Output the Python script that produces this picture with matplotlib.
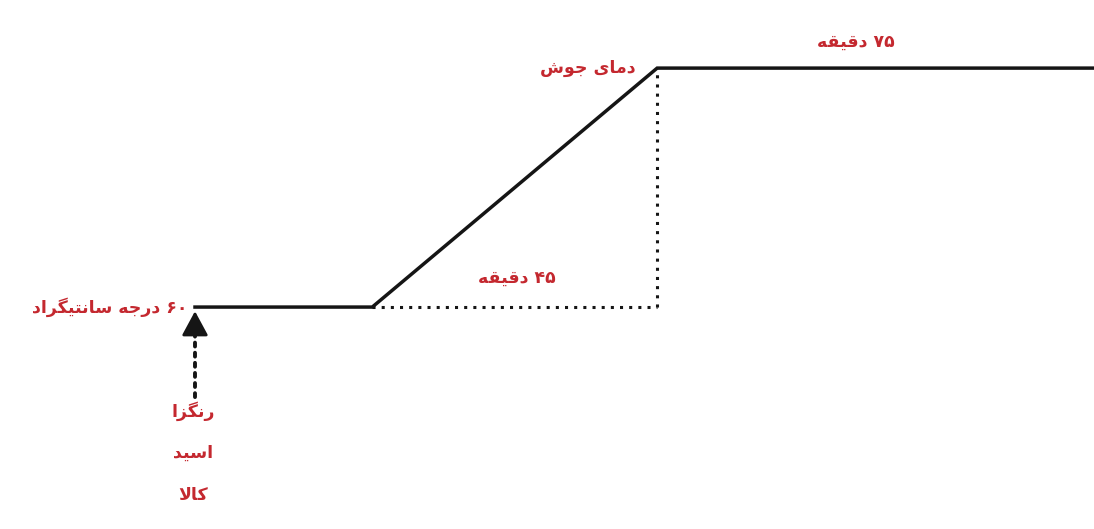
import matplotlib
matplotlib.use("Agg")
import matplotlib.pyplot as plt

plt.rcParams['font.family'] = ['DejaVu Sans', 'Noto Sans']

# زمان (دقیقه) و دما (درجه سانتیگراد) - نمودار شماتیک
time = [0, 28, 73, 142]
temp = [60, 60, 100, 100]

ramp_label = "۴۵ دقیقه"
hold_label = "۷۵ دقیقه"
start_label = "۶۰ درجه سانتیگراد"
boil_label = "دمای جوش"
input_labels = ["رنگزا", "اسید", "کالا"]

# شکل‌دهی ساده حروف فارسی (matplotlib خودش این کار را نمی‌کند)
FORMS = {
    'ا': ('\uFE8D', '\uFE8E', None, None),
    'د': ('\uFEA9', '\uFEAA', None, None),
    'ر': ('\uFEAD', '\uFEAE', None, None),
    'ز': ('\uFEAF', '\uFEB0', None, None),
    'و': ('\uFEED', '\uFEEE', None, None),
    'ب': ('\uFE8F', '\uFE90', '\uFE91', '\uFE92'),
    'ت': ('\uFE95', '\uFE96', '\uFE97', '\uFE98'),
    'ج': ('\uFE9D', '\uFE9E', '\uFE9F', '\uFEA0'),
    'س': ('\uFEB1', '\uFEB2', '\uFEB3', '\uFEB4'),
    'ش': ('\uFEB5', '\uFEB6', '\uFEB7', '\uFEB8'),
    'ق': ('\uFED5', '\uFED6', '\uFED7', '\uFED8'),
    'ک': ('\uFB8E', '\uFB8F', '\uFB90', '\uFB91'),
    'گ': ('\uFB92', '\uFB93', '\uFB94', '\uFB95'),
    'ل': ('\uFEDD', '\uFEDE', '\uFEDF', '\uFEE0'),
    'م': ('\uFEE1', '\uFEE2', '\uFEE3', '\uFEE4'),
    'ن': ('\uFEE5', '\uFEE6', '\uFEE7', '\uFEE8'),
    'ه': ('\uFEE9', '\uFEEA', '\uFEEB', '\uFEEC'),
    'ی': ('\uFBFC', '\uFBFD', '\uFBFE', '\uFBFF'),
}


def shape_word(word):
    out = []
    i = 0
    prev_joins = False
    while i < len(word):
        c = word[i]
        if c not in FORMS:
            out.append(c)
            prev_joins = False
            i += 1
            continue
        # لا
        if c == 'ل' and i + 1 < len(word) and word[i + 1] == 'ا':
            out.append('\uFEFC' if prev_joins else '\uFEFB')
            prev_joins = False
            i += 2
            continue
        f = FORMS[c]
        next_joins = f[2] is not None and i + 1 < len(word) and word[i + 1] in FORMS
        if prev_joins and next_joins:
            out.append(f[3])
        elif prev_joins:
            out.append(f[1])
        elif next_joins:
            out.append(f[2])
        else:
            out.append(f[0])
        prev_joins = next_joins
        i += 1
    return out


def fa(text):
    words = []
    for w in text.split(' '):
        if all('\u06F0' <= c <= '\u06F9' for c in w):
            words.append(w)
        else:
            words.append(''.join(reversed(shape_word(w))))
    return ' '.join(reversed(words))


red = '#c4282f'
ink = '#151515'
fig = plt.figure(figsize=(10.94, 5.29), dpi=100)
ax = fig.add_axes([0, 0, 1, 1])
ax.set_xlim(-30.8, 142)
ax.set_ylim(22.85, 111.4)
ax.axis('off')

ax.plot(time, temp, color=ink, lw=2.5, solid_joinstyle='miter')
ax.plot([time[1], time[2]], [temp[1], temp[1]], color=ink, lw=2.2,
        linestyle=(0, (1, 2)))
ax.plot([time[2], time[2]], [temp[1], temp[2]], color=ink, lw=2.2,
        linestyle=(0, (1, 2)))

# فلش ورود مواد
ax.annotate('', xy=(time[0], temp[0]), xycoords='data',
            xytext=(0, -90), textcoords='offset pixels',
            arrowprops=dict(arrowstyle='-', color=ink, lw=2.8,
                            linestyle=(0, (1, 1.6)), shrinkA=0, shrinkB=18))
ax.annotate('', xy=(time[0], temp[0]), xycoords='data',
            xytext=(0, -30), textcoords='offset pixels',
            arrowprops=dict(arrowstyle='-|>,head_length=0.5,head_width=0.27',
                            color=ink, lw=2, mutation_scale=30,
                            shrinkA=0, shrinkB=3))

tkw = dict(color=red, fontsize=12.5, fontweight='bold', textcoords='offset pixels')
ax.annotate(fa(start_label), xy=(time[0], temp[0]), xytext=(-7, 0),
            ha='right', va='center', **tkw)
ax.annotate(fa(boil_label), xy=(time[2], temp[2]), xytext=(-22, 0),
            ha='right', va='center', **tkw)
ax.annotate(fa(hold_label), xy=(time[2], temp[2]), xytext=(199, 26),
            ha='center', va='center', **tkw)
ax.annotate(fa(ramp_label), xy=((time[1] + time[2]) / 2, temp[1]), xytext=(2, 29),
            ha='center', va='center', **tkw)
for k, lab in enumerate(input_labels):
    ax.annotate(fa(lab), xy=(time[0], temp[0]), xytext=(-2, -104 - 42 * k),
                ha='center', va='center', **tkw)

plt.savefig('out.png', dpi=100, facecolor='white')
